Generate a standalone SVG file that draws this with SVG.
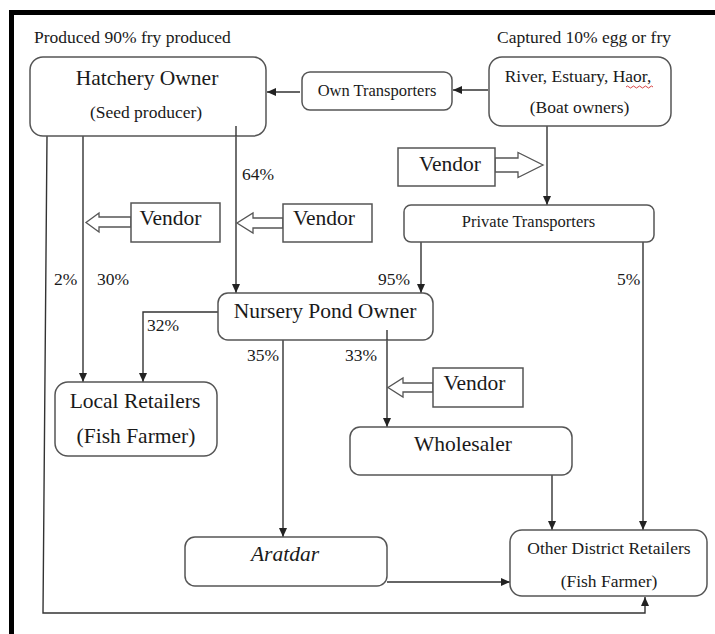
<svg xmlns="http://www.w3.org/2000/svg" width="715" height="634" viewBox="0 0 715 634">
<defs>
<marker id="ah" markerUnits="userSpaceOnUse" markerWidth="9" markerHeight="8" refX="9" refY="4" orient="auto">
<path d="M0,0 L9,4 L0,8 z" fill="#222"/>
</marker>
<style>
.bx{fill:#fff;stroke:#555;stroke-width:1.5}
.vb{fill:#fff;stroke:#555;stroke-width:1.5}
.ba{fill:#fff;stroke:#555;stroke-width:1.3;stroke-linejoin:miter}
.ln{fill:none;stroke:#333;stroke-width:1.4}
.ar{fill:none;stroke:#333;stroke-width:1.4;marker-end:url(#ah)}
text{font-family:"Liberation Serif","Times New Roman",serif;fill:#1a1a1a}
.s{font-size:17.5px}
.m{font-size:16.5px}
.l{font-size:21.5px}
.c{text-anchor:middle}
</style>
</defs>
<rect x="0" y="0" width="715" height="634" fill="#fff"/>
<rect x="9" y="10" width="706" height="5" fill="#000"/>
<rect x="9" y="10" width="5" height="624" fill="#000"/>

<text class="s" x="34" y="43">Produced 90% fry produced</text>
<text class="s" x="497" y="43">Captured 10% egg or fry</text>

<g id="connectors">
<line class="ar" x1="300" y1="92" x2="267" y2="92"/>
<line class="ar" x1="488" y1="90" x2="453" y2="90"/>
<line class="ar" x1="547" y1="126" x2="547" y2="205"/>
<polyline class="ar" points="47,136 43,613 645,613 645,597"/>
<line class="ar" x1="83" y1="136" x2="83" y2="382"/>
<line class="ar" x1="236" y1="126" x2="236" y2="293"/>
<line class="ar" x1="421" y1="242" x2="421" y2="293"/>
<line class="ar" x1="643" y1="242" x2="643" y2="530"/>
<polyline class="ar" points="218,312 143,312 143,382"/>
<line class="ar" x1="283" y1="340" x2="283" y2="537"/>
<line class="ar" x1="387" y1="330" x2="387" y2="427"/>
<line class="ar" x1="552" y1="475" x2="552" y2="530"/>
<line class="ar" x1="387" y1="582" x2="510" y2="582"/>
</g>

<g id="hatchery">
<rect class="bx" x="30" y="57" width="236" height="79" rx="13"/>
<text class="l c" x="147" y="85">Hatchery Owner</text>
<text class="s c" x="146" y="118">(Seed producer)</text>
</g>
<line class="ln" x1="236" y1="126" x2="236" y2="136"/>

<g id="own-transporters">
<rect class="bx" x="302" y="72" width="150" height="38" rx="8"/>
<text class="m c" x="377" y="96">Own Transporters</text>
</g>

<g id="river">
<rect class="bx" x="489" y="57" width="182" height="69" rx="13"/>
<text class="s c" x="578" y="82">River, Estuary, Haor,</text>
<text class="s c" x="579.5" y="113">(Boat owners)</text>
<path d="M626,87 q1.5,-2 3,0 t3,0 t3,0 t3,0 t3,0 t3,0 t3,0 t3,0 t3,0" fill="none" stroke="#d03030" stroke-width="0.9"/>
</g>

<g id="vendor-top">
<polygon class="ba" points="495,158 518,158 518,152.5 543,165 518,177.5 518,172 495,172"/>
<rect class="vb" x="398" y="148" width="97" height="38"/>
<text class="l c" x="450" y="171">Vendor</text>
</g>

<g id="private-transporters">
<rect class="bx" x="404" y="205" width="250" height="37" rx="7"/>
<text class="m c" x="528.5" y="227">Private Transporters</text>
</g>

<g id="vendor-left">
<polygon class="ba" points="131,217 99,217 99,213 86,222.5 99,232 99,227 131,227"/>
<rect class="vb" x="131" y="203" width="89" height="39"/>
<text class="l c" x="170.5" y="225">Vendor</text>
</g>

<g id="vendor-mid">
<polygon class="ba" points="283,218 253,218 253,213 237,223 253,233 253,228 283,228"/>
<rect class="vb" x="283" y="204" width="89" height="38"/>
<text class="l c" x="324" y="225">Vendor</text>
</g>

<text class="s" x="242" y="180">64%</text>
<text class="s" x="54" y="285">2%</text>
<text class="s" x="97" y="285">30%</text>
<text class="s" x="378" y="285">95%</text>
<text class="s" x="617" y="285">5%</text>
<text class="s" x="147" y="331">32%</text>
<text class="s" x="247" y="361">35%</text>
<text class="s" x="345" y="361">33%</text>

<g id="nursery">
<rect class="bx" x="218" y="293" width="215" height="47" rx="10"/>
<text class="l c" x="325" y="318">Nursery Pond Owner</text>
</g>
<line class="ln" x1="387" y1="330" x2="387" y2="340"/>

<g id="vendor-low">
<polygon class="ba" points="433,383 403,383 403,378 388,387.5 403,397 403,392 433,392"/>
<rect class="vb" x="433" y="368" width="90" height="39"/>
<text class="l c" x="474.5" y="390">Vendor</text>
</g>

<g id="local-retailers">
<rect class="bx" x="55" y="382" width="162" height="74" rx="13"/>
<text class="l c" x="135" y="408">Local Retailers</text>
<text class="l c" x="136" y="443">(Fish Farmer)</text>
</g>

<g id="wholesaler">
<rect class="bx" x="350" y="427" width="222" height="48" rx="10"/>
<text class="l c" x="463" y="451">Wholesaler</text>
</g>

<g id="aratdar">
<rect class="bx" x="185" y="537" width="202" height="49" rx="10"/>
<text class="l c" x="285" y="561" font-style="italic">Aratdar</text>
</g>

<g id="other-district">
<rect class="bx" x="510" y="530" width="197" height="66" rx="12"/>
<text class="s c" x="609" y="554">Other District Retailers</text>
<text class="s c" x="609" y="587">(Fish Farmer)</text>
</g>
</svg>
